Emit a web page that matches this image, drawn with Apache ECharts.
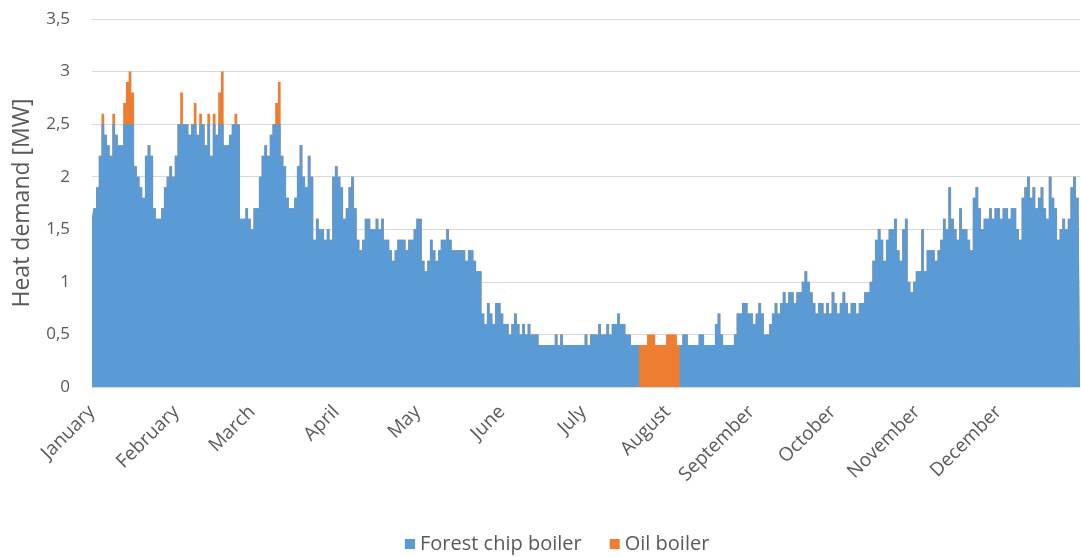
<!DOCTYPE html>
<html>
<head>
<meta charset="utf-8">
<script src="https://cdn.jsdelivr.net/npm/echarts@6/dist/echarts.min.js"></script>
<style>
html, body { margin: 0; padding: 0; background: #fff; }
#main { width: 1081px; height: 557px; }
</style>
</head>
<body>
<div id="main"></div>
<script>
// month names and days per month (x axis categories are days)
const months = ["January", "February", "March", "April", "May", "June", "July",
    "August", "September", "October", "November", "December"];
const monthDays = [31, 28, 31, 30, 31, 30, 31, 31, 30, 31, 30, 31];
const yTicks = [0, 0.5, 1, 1.5, 2, 2.5, 3, 3.5];

// forest chip boiler, daily heat demand [MW]
const chipJan = [1.6,1.7,1.9,2.2,2.5,2.4,2.3,2.2,2.5,2.4, 2.3,2.3,2.5,2.5,2.5,2.5,2.1,2.0,1.9,1.8, 2.2,2.3,2.2,1.7,1.6,1.6,1.7,1.9,2.0,2.1, 2.0];
const chipFeb = [2.2,2.5,2.5,2.5,2.5,2.4,2.5,2.5,2.4,2.5, 2.5,2.3,2.5,2.2,2.5,2.4,2.5,2.5,2.3,2.3, 2.4,2.5,2.5,2.5,1.6,1.6,1.7,1.6];
const chipMar = [1.5,1.7,1.7,2.0,2.2,2.3,2.2,2.4,2.5,2.5, 2.5,2.2,2.1,1.8,1.7,1.7,1.8,2.1,2.3,2.0, 1.9,2.2,2.0,1.4,1.6,1.5,1.5,1.4,1.5,1.4, 2.0];
const chipApr = [2.1,2.0,1.9,1.6,1.7,1.9,2.0,1.7,1.4,1.3, 1.4,1.6,1.6,1.5,1.5,1.6,1.5,1.6,1.4,1.4, 1.3,1.2,1.3,1.4,1.4,1.4,1.3,1.4,1.4,1.5];
const chipMay = [1.6,1.6,1.2,1.1,1.2,1.4,1.3,1.2,1.3,1.4, 1.4,1.5,1.4,1.3,1.3,1.3,1.3,1.3,1.2,1.3, 1.3,1.2,1.1,1.1,0.7,0.6,0.8,0.7,0.6,0.8, 0.8];
const chipJun = [0.7,0.6,0.6,0.5,0.6,0.7,0.6,0.5,0.6,0.5, 0.6,0.5,0.5,0.5,0.4,0.4,0.4,0.4,0.4,0.4, 0.5,0.4,0.5,0.4,0.4,0.4,0.4,0.4,0.4,0.4];
const chipJul = [0.4,0.5,0.4,0.5,0.5,0.5,0.6,0.5,0.5,0.6, 0.5,0.6,0.6,0.7,0.6,0.6,0.5,0.5,0.4,0.4, 0.4,0,0,0,0,0,0,0,0,0, 0];
const chipAug = [0,0,0,0,0,0.4,0.5,0.5,0.4,0.4, 0.4,0.4,0.5,0.5,0.4,0.4,0.4,0.4,0.6,0.7, 0.5,0.4,0.4,0.4,0.4,0.5,0.7,0.7,0.8,0.8, 0.7];
const chipSep = [0.7,0.6,0.7,0.8,0.7,0.5,0.5,0.6,0.7,0.8, 0.7,0.8,0.9,0.8,0.9,0.9,0.8,0.9,0.9,1.0, 1.1,1.0,0.9,0.8,0.7,0.8,0.8,0.7,0.8,0.7];
const chipOct = [0.9,0.8,0.7,0.8,0.9,0.8,0.7,0.8,0.8,0.7, 0.8,0.8,0.9,0.9,1.0,1.2,1.4,1.5,1.4,1.2, 1.4,1.5,1.5,1.6,1.3,1.2,1.5,1.6,1.0,0.9, 1.0];
const chipNov = [1.1,1.1,1.5,1.1,1.3,1.3,1.3,1.2,1.3,1.4, 1.6,1.5,1.9,1.6,1.5,1.4,1.7,1.5,1.5,1.4, 1.3,1.8,1.9,1.7,1.5,1.6,1.6,1.7,1.6,1.7];
const chipDec = [1.7,1.6,1.7,1.7,1.6,1.7,1.7,1.5,1.4,1.8, 1.9,2.0,1.8,1.9,1.7,1.8,1.9,1.7,1.6,2.0, 1.8,1.7,1.4,1.5,1.6,1.5,1.6,1.9,2.0,1.8, 1.7];

// oil boiler, daily heat demand [MW]
const oilJan = [0,0,0,0,0.1,0,0,0,0.1,0, 0,0,0.2,0.4,0.5,0.3,0,0,0,0, 0,0,0,0,0,0,0,0,0,0, 0];
const oilFeb = [0,0,0.3,0,0,0,0,0.2,0,0.1, 0,0,0.1,0,0.1,0,0.3,0.5,0,0, 0,0,0.1,0,0,0,0,0];
const oilMar = [0,0,0,0,0,0,0,0,0,0.2, 0.4,0,0,0,0,0,0,0,0,0, 0,0,0,0,0,0,0,0,0,0, 0];
const oilApr = [0,0,0,0,0,0,0,0,0,0, 0,0,0,0,0,0,0,0,0,0, 0,0,0,0,0,0,0,0,0,0];
const oilMay = [0,0,0,0,0,0,0,0,0,0, 0,0,0,0,0,0,0,0,0,0, 0,0,0,0,0,0,0,0,0,0, 0];
const oilJun = [0,0,0,0,0,0,0,0,0,0, 0,0,0,0,0,0,0,0,0,0, 0,0,0,0,0,0,0,0,0,0];
const oilJul = [0,0,0,0,0,0,0,0,0,0, 0,0,0,0,0,0,0,0,0,0, 0,0.4,0.4,0.4,0.5,0.5,0.5,0.4,0.4,0.4, 0.4];
const oilAug = [0.5,0.5,0.5,0.5,0.4,0,0,0,0,0, 0,0,0,0,0,0,0,0,0,0, 0,0,0,0,0,0,0,0,0,0, 0];
const oilSep = [0,0,0,0,0,0,0,0,0,0, 0,0,0,0,0,0,0,0,0,0, 0,0,0,0,0,0,0,0,0,0];
const oilOct = [0,0,0,0,0,0,0,0,0,0, 0,0,0,0,0,0,0,0,0,0, 0,0,0,0,0,0,0,0,0,0, 0];
const oilNov = [0,0,0,0,0,0,0,0,0,0, 0,0,0,0,0,0,0,0,0,0, 0,0,0,0,0,0,0,0,0,0];
const oilDec = [0,0,0,0,0,0,0,0,0,0, 0,0,0,0,0,0,0,0,0,0, 0,0,0,0,0,0,0,0,0,0, 0];

const chip = [].concat(chipJan, chipFeb, chipMar, chipApr, chipMay, chipJun,
    chipJul, chipAug, chipSep, chipOct, chipNov, chipDec);
const oil = [].concat(oilJan, oilFeb, oilMar, oilApr, oilMay, oilJun,
    oilJul, oilAug, oilSep, oilOct, oilNov, oilDec);
// oil sits on top of the chip boiler: draw the sum behind the blue area
const total = chip.map(function (v, i) {
    return Math.round((v + oil[i]) * 10) / 10;
});

let days = [];
months.forEach(function (m, i) {
    for (let d = 1; d <= monthDays[i]; d++) {
        days.push(m + " " + d);
    }
});

const textColor = "#595959";
const font = "'Open Sans', 'Noto Sans', sans-serif";
const blue = "#5b9bd5";
const orange = "#ed7d31";

let chart = echarts.init(document.getElementById("main"));
chart.setOption({
    animation: false,
    textStyle: { fontFamily: font },
    grid: {
        left: 92,
        right: 1,
        top: 19,
        bottom: 170,
        containLabel: false
    },
    legend: {
        top: 529,
        left: 400,
        itemWidth: 10,
        itemHeight: 10,
        itemGap: 28,
        icon: "rect",
        textStyle: { color: textColor, fontSize: 20, fontFamily: font },
        data: ["Forest chip boiler", "Oil boiler"]
    },
    xAxis: {
        type: "category",
        data: days,
        boundaryGap: false,
        axisTick: { show: false },
        axisLine: { lineStyle: { color: "#d9d9d9" } },
        axisLabel: {
            rotate: 45,
            color: textColor,
            fontSize: 19,
            margin: 22,
            interval: function (index, value) {
                return / 1$/.test(value);
            },
            formatter: function (value) {
                return value.split(" ")[0];
            }
        }
    },
    yAxis: {
        type: "value",
        min: yTicks[0],
        max: yTicks[yTicks.length - 1],
        interval: 0.5,
        name: "Heat demand [MW]",
        nameLocation: "middle",
        nameGap: 58,
        nameTextStyle: { color: textColor, fontSize: 23, fontFamily: font },
        axisLine: { show: false },
        axisTick: { show: false },
        axisLabel: {
            color: textColor,
            fontSize: 17,
            margin: 22,
            formatter: function (v) {
                return String(v).replace(".", ",");
            }
        },
        splitLine: { lineStyle: { color: "#d9d9d9", width: 1 } }
    },
    series: [
        {
            name: "Oil boiler",
            type: "line",
            step: "middle",
            z: 1,
            showSymbol: false,
            lineStyle: { width: 0 },
            itemStyle: { color: orange },
            areaStyle: { color: orange, opacity: 1 },
            data: total
        },
        {
            name: "Forest chip boiler",
            type: "line",
            step: "middle",
            z: 2,
            showSymbol: false,
            lineStyle: { width: 0 },
            itemStyle: { color: blue },
            areaStyle: { color: blue, opacity: 1 },
            data: chip
        }
    ]
});
</script>
</body>
</html>
